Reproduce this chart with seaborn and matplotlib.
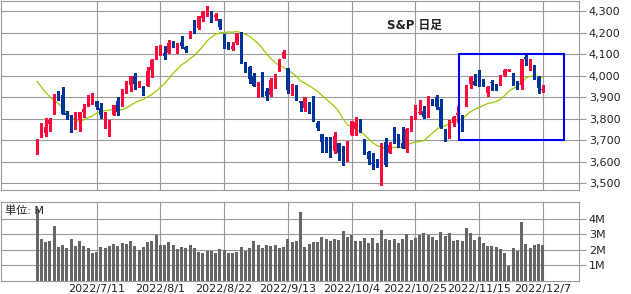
import numpy as np
import pandas as pd
import matplotlib
matplotlib.use("Agg")
import matplotlib.pyplot as plt
from matplotlib.patches import Rectangle
import seaborn as sns

# ---------------- data ----------------
holidays = ["2022-06-20", "2022-07-04", "2022-09-05", "2022-11-24"]
dates = [d for d in pd.bdate_range("2022-06-17", "2022-12-07")
         if d.strftime("%Y-%m-%d") not in holidays]

opens = [
    3665.90,
    3715.31, 3733.89, 3774.71, 3821.75,
    3920.76, 3913.00, 3825.09, 3785.99,
    3781.00,
    3792.61, 3831.98, 3858.85, 3888.26,
    3880.94, 3851.95, 3779.67, 3763.99, 3818.00,
    3883.79, 3860.73, 3935.32, 3955.47, 3998.40,
    3965.72, 3953.22, 3951.43, 4026.13, 4087.33,
    4112.38, 4104.21, 4107.96, 4154.85, 4115.87,
    4155.93, 4133.11, 4176.26, 4227.40, 4225.02,
    4269.37, 4290.46, 4280.40, 4273.13, 4266.31,
    4195.08, 4133.09, 4126.55, 4153.26, 4198.74,
    4034.58, 4041.25, 4000.67, 3936.73, 3994.66,
    3930.89, 3909.43, 3959.94, 4022.94,
    4083.67, 4037.12, 3940.73, 3932.41, 3880.95,
    3849.91, 3875.23, 3871.40, 3782.36, 3727.14,
    3682.72, 3686.44, 3651.94, 3687.01, 3633.48,
    3609.78, 3726.46, 3753.25, 3771.97, 3706.74,
    3647.51, 3595.86, 3590.83, 3520.37, 3690.41,
    3638.65, 3746.26, 3703.11, 3689.05, 3657.10,
    3762.01, 3799.44, 3825.97, 3834.69, 3808.26,
    3881.85, 3901.79, 3852.90, 3733.25, 3766.98,
    3780.71, 3817.02, 3810.94, 3859.89, 3963.72,
    3977.97, 4006.41, 3976.82, 3919.26, 3966.39,
    3956.23, 3965.51, 4000.30, 4023.34,
    4005.36, 3964.19, 3957.18, 4087.14, 4040.17,
    4052.02, 3996.63, 3933.28,
]
highs = [
    3707.71,
    3779.65, 3801.79, 3802.58, 3913.65,
    3927.72, 3945.86, 3836.50, 3818.99,
    3829.82,
    3832.19, 3870.91, 3910.63, 3918.50,
    3880.94, 3873.41, 3829.44, 3796.41, 3863.62,
    3902.44, 3939.81, 3974.13, 3999.29, 4012.44,
    3975.30, 3953.22, 4039.56, 4078.95, 4140.15,
    4144.95, 4140.47, 4167.66, 4161.29, 4151.58,
    4186.62, 4137.30, 4211.03, 4257.91, 4280.47,
    4301.79, 4325.28, 4302.18, 4292.53, 4266.31,
    4195.08, 4159.77, 4156.56, 4200.54, 4203.04,
    4062.99, 4044.98, 4015.37, 3970.23, 4018.43,
    3942.55, 3987.89, 4010.50, 4076.81,
    4119.28, 4037.12, 3961.94, 3959.14, 3880.95,
    3900.45, 3876.01, 3907.07, 3790.20, 3727.14,
    3715.67, 3717.53, 3736.74, 3687.01, 3671.44,
    3698.35, 3790.93, 3806.91, 3797.93, 3706.74,
    3652.17, 3640.66, 3611.87, 3685.41, 3712.00,
    3689.73, 3762.79, 3728.58, 3762.71, 3757.89,
    3810.74, 3862.85, 3886.15, 3859.95, 3905.42,
    3893.73, 3911.79, 3894.44, 3750.59, 3796.34,
    3813.95, 3859.40, 3818.20, 3958.33, 4001.48,
    4008.97, 4028.84, 3983.09, 3954.33, 3979.89,
    3962.00, 4005.88, 4033.78, 4034.02,
    4012.27, 3976.77, 4080.11, 4100.51, 4080.48,
    4052.45, 4001.51, 3957.57,
]
lows = [
    3636.87,
    3715.31, 3717.69, 3743.52, 3821.75,
    3889.66, 3820.14, 3799.02, 3738.67,
    3752.10,
    3742.06, 3809.37, 3858.85, 3869.34,
    3847.22, 3802.36, 3759.07, 3721.56, 3817.18,
    3818.63, 3860.73, 3922.03, 3927.64, 3938.85,
    3946.27, 3910.74, 3951.43, 3992.97, 4079.22,
    4096.02, 4079.81, 4107.96, 4135.42, 4107.31,
    4128.97, 4112.09, 4176.26, 4201.41, 4219.78,
    4256.90, 4277.77, 4253.08, 4261.98, 4218.70,
    4129.86, 4124.03, 4119.97, 4147.59, 4057.66,
    4017.42, 3965.21, 3954.53, 3903.65, 3906.21,
    3886.75, 3906.03, 3944.81, 4022.94,
    4083.67, 3921.24, 3912.66, 3888.28, 3837.08,
    3838.50, 3827.54, 3789.49, 3749.45, 3647.47,
    3644.76, 3623.29, 3640.61, 3610.40, 3584.13,
    3604.93, 3726.46, 3722.66, 3739.22, 3636.21,
    3588.10, 3568.45, 3573.33, 3491.58, 3580.14,
    3638.65, 3686.53, 3666.51, 3663.06, 3647.42,
    3741.65, 3799.44, 3824.07, 3803.79, 3808.26,
    3863.18, 3843.80, 3758.68, 3698.15, 3708.84,
    3764.70, 3786.28, 3744.22, 3859.89, 3944.82,
    3956.40, 3953.17, 3954.34, 3906.54, 3935.98,
    3933.34, 3956.88, 3998.66, 4020.76,
    3955.77, 3937.65, 3938.58, 4050.87, 4026.63,
    3984.49, 3918.39, 3922.68,
]
closes = [
    3674.84,
    3764.79, 3759.89, 3795.73, 3911.74,
    3900.11, 3821.55, 3818.83, 3785.38,
    3825.33,
    3831.39, 3845.08, 3902.62, 3899.38,
    3854.43, 3818.80, 3801.78, 3790.38, 3863.16,
    3830.85, 3936.69, 3959.90, 3998.95, 3961.63,
    3966.84, 3921.05, 4023.61, 4072.43, 4130.29,
    4118.63, 4091.19, 4155.17, 4151.94, 4145.19,
    4140.06, 4122.47, 4210.24, 4207.27, 4280.15,
    4297.14, 4305.20, 4274.04, 4283.74, 4228.48,
    4137.99, 4128.73, 4140.77, 4199.12, 4057.66,
    4030.61, 3986.16, 3955.00, 3966.85, 3924.26,
    3908.19, 3979.87, 4006.18, 4067.36,
    4110.41, 3932.69, 3946.01, 3901.35, 3873.33,
    3899.89, 3855.93, 3789.93, 3757.99, 3693.23,
    3655.04, 3647.29, 3719.04, 3640.47, 3585.62,
    3678.43, 3790.93, 3783.28, 3744.52, 3639.66,
    3612.39, 3588.84, 3577.03, 3669.91, 3583.07,
    3677.95, 3719.98, 3695.16, 3665.78, 3752.75,
    3797.34, 3859.11, 3830.60, 3807.30, 3901.06,
    3871.98, 3856.10, 3759.69, 3719.89, 3770.55,
    3806.80, 3828.11, 3748.57, 3956.37, 3992.93,
    3957.25, 3991.73, 3958.79, 3946.56, 3965.34,
    3949.94, 4003.58, 4027.26, 4026.12,
    3963.94, 3957.63, 4080.11, 4076.57, 4071.70,
    3998.84, 3941.26, 3933.92,
]
# closes of the sessions before the first candle (to seed the moving average)
prior_closes = [
    4023.89, 4008.01, 4088.85, 3923.68, 3900.79, 3901.36, 3973.75, 3941.48,
    3978.73, 4057.84, 4158.24, 4132.15, 4101.23, 4176.82, 4108.54, 4121.43,
    4160.68, 4115.77, 4017.82, 3900.86, 3749.63, 3735.48, 3789.99, 3666.77,
]
volumes_m = [
    4.60, 2.71, 2.52, 2.58, 3.53, 2.18, 2.31, 2.11, 2.71, 2.26,
    2.58, 2.24, 2.11, 1.81, 1.88, 2.18, 2.11, 2.24, 2.37, 2.24,
    2.45, 2.39, 2.58, 2.24, 2.00, 2.18, 2.52, 2.58, 2.97, 2.31,
    2.31, 2.52, 2.31, 2.05, 2.18, 2.12, 2.31, 2.12, 1.88, 1.82,
    1.94, 1.94, 1.82, 2.05, 2.01, 1.82, 1.82, 1.88, 2.18, 1.94,
    2.12, 2.59, 2.31, 2.12, 2.31, 2.24, 2.31, 2.12, 2.18, 2.71,
    2.52, 2.59, 4.44, 2.18, 2.39, 2.52, 2.52, 2.82, 2.71, 2.59,
    2.71, 2.65, 3.23, 2.82, 2.97, 2.59, 2.59, 2.76, 2.46, 2.76,
    2.46, 3.29, 2.71, 2.65, 2.71, 2.46, 2.71, 3.03, 2.65, 2.76,
    2.97, 3.10, 2.97, 2.84, 2.65, 3.16, 2.91, 3.10, 2.59, 2.65,
    2.59, 3.42, 3.10, 2.65, 2.84, 2.46, 2.27, 2.27, 2.20, 2.07,
    1.82, 0.98, 2.14, 1.94, 3.80, 2.39, 2.14, 2.33, 2.39, 2.33,
]
tick_dates = ["2022-07-11", "2022-08-01", "2022-08-22", "2022-09-13",
              "2022-10-04", "2022-10-25", "2022-11-15", "2022-12-07"]
tick_labels = ["2022/7/11", "2022/8/1", "2022/8/22", "2022/9/13",
               "2022/10/4", "2022/10/25", "2022/11/15", "2022/12/7"]
price_ticks = [3500, 3600, 3700, 3800, 3900, 4000, 4100, 4200, 4300]
volume_ticks = [1, 2, 3, 4]
title_text = "S&P 日足"
unit_text = "単位: M"
ma_window = 15
box_price = (3700, 4100)

# ---------------- style ----------------
RED = "#ff0a3c"
BLUE = "#00349a"
MA_COLOR = "#99cc00"
GRID = "#9a9a9a"
VOL = "#666666"
TXT = "#222222"

sns.set_theme(style="white")
plt.rcParams["font.family"] = ["DejaVu Sans", "Noto Sans CJK JP"]

W, H = 631, 294
fig = plt.figure(figsize=(W / 100, H / 100), dpi=100)
fig.patch.set_facecolor("white")

left = 1 / W
width = 578 / W
ax1 = fig.add_axes([left, 1 - 190.3 / H, width, 189.8 / H])
ax2 = fig.add_axes([left, 1 - 280.8 / H, width, 79.1 / H])

o = np.array(opens); h = np.array(highs); l = np.array(lows); c = np.array(closes)
n = len(c)
idx = np.arange(n)
up = c >= o
colors = np.where(up, RED, BLUE)

# moving average of closes
ma = (pd.Series(prior_closes + closes).rolling(ma_window).mean()
      .iloc[len(prior_closes):].to_numpy())

# wicks & bodies
ax1.vlines(idx, l, h, colors=colors, linewidth=0.8, antialiased=False, zorder=3)
body_bottom = np.minimum(o, c)
body_h = np.maximum(np.abs(c - o), 4.0)
ax1.bar(idx, body_h, bottom=body_bottom, width=0.7, color=colors,
        linewidth=0, antialiased=False, zorder=4)
sns.lineplot(x=idx, y=ma, ax=ax1, color=MA_COLOR, linewidth=0.9, zorder=2)

# volume
vol_df = pd.DataFrame({"i": idx, "v": volumes_m})
sns.barplot(data=vol_df, x="i", y="v", ax=ax2, native_scale=True, width=0.7,
            color=VOL, saturation=1, errorbar=None, linewidth=0, zorder=3)

tick_pos = [i for i, d in enumerate(dates) if d.strftime("%Y-%m-%d") in tick_dates]

for ax in (ax1, ax2):
    ax.set_xlim(-8.5, 127.5)
    ax.set_xticks(tick_pos)
    ax.grid(True, color=GRID, linewidth=0.8, zorder=0)
    ax.set_axisbelow(True)
    for s in ax.spines.values():
        s.set_color(GRID)
        s.set_linewidth(0.8)
    ax.yaxis.tick_right()
    ax.tick_params(axis="y", which="both", right=True, left=False, length=5,
                   width=0.8, color=GRID, pad=2, labelsize=8, labelcolor=TXT)
    ax.tick_params(axis="x", length=0, pad=2, labelsize=8, labelcolor=TXT)
    ax.set_xlabel("")
    ax.set_ylabel("")

ax1.set_ylim(3467, 4351)
ax1.set_yticks(price_ticks)
ax1.set_yticklabels([f"{v:,}" for v in price_ticks])
ax1.set_xticklabels([])

ax2.set_ylim(0, 5.1)
ax2.set_yticks(volume_ticks)
ax2.set_yticklabels([f"{v}M" for v in volume_ticks])
ax2.set_xticklabels(tick_labels)

# highlight box
ax1.add_patch(Rectangle((99.25, box_price[0]), 24.65, box_price[1] - box_price[0],
                        fill=False, edgecolor="#0000ee", linewidth=1.5, zorder=6))

ax1.text(0.668, 0.868, title_text, transform=ax1.transAxes, ha="left", va="center",
         fontsize=8.5, fontweight="bold", color=TXT, zorder=7)
ax2.text(0.007, 0.885, unit_text, transform=ax2.transAxes, ha="left", va="center",
         fontsize=8, color=TXT, zorder=7)

fig.savefig("out.png", dpi=100)
